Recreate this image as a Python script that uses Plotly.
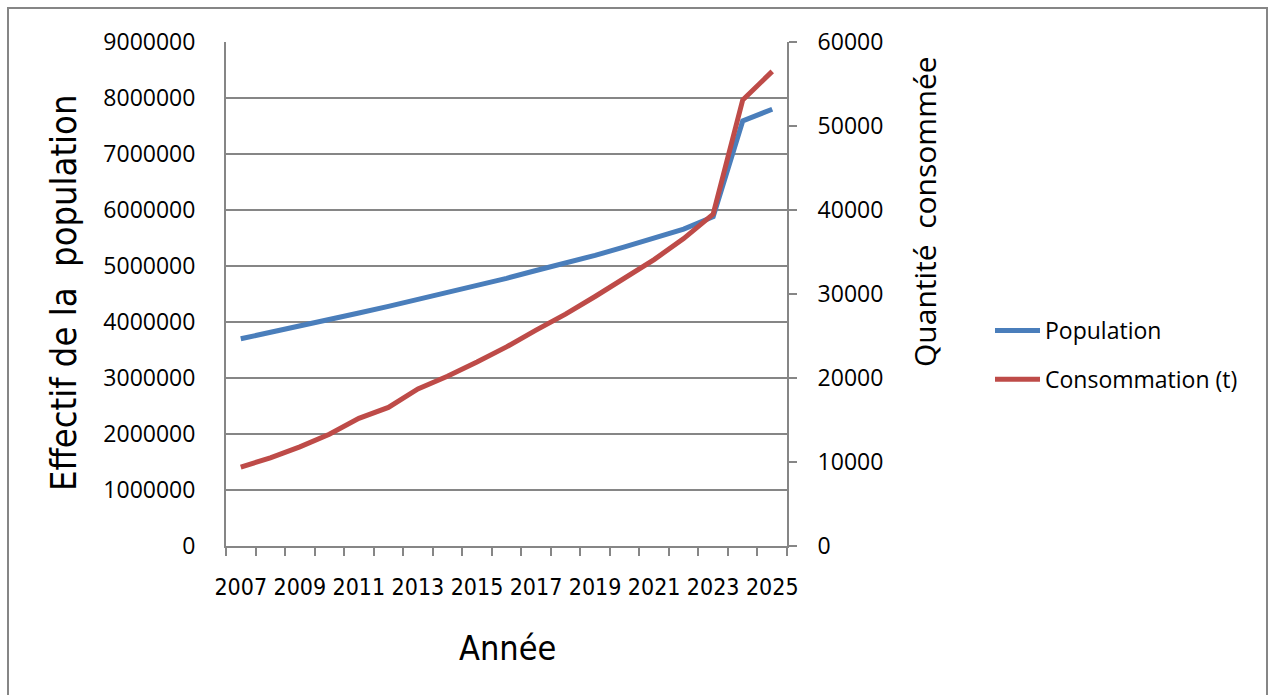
import plotly.graph_objects as go

# Années de projection
annees = list(range(2007, 2026))

# Effectif de la population (axe de gauche)
population = [3700000, 3810000, 3930000, 4040000, 4160000, 4280000, 4400000,
              4530000, 4650000, 4780000, 4920000, 5050000, 5190000, 5340000,
              5490000, 5660000, 5880000, 7590000, 7800000]

# Quantité consommée en tonnes (axe de droite)
consommation = [9400, 10500, 11800, 13300, 15200, 16500, 18700, 20200, 21900,
                23700, 25700, 27600, 29700, 31900, 34100, 36600, 39500, 53100, 56500]

# Graduations
x_labels = [str(a) for a in range(2007, 2026, 2)]
y_left_ticks = list(range(0, 9000001, 1000000))
y_right_ticks = list(range(0, 60001, 10000))

GRID = "#868686"
NARROW = "DejaVu Sans Condensed, Liberation Sans, sans-serif"
BODY = "Open Sans, Lato, sans-serif"

fig = go.Figure()
fig.add_trace(go.Scatter(
    x=annees, y=population, name="Population", mode="lines",
    line=dict(color="#4A7EBB", width=5), legendgroup="pop", yaxis="y"))
fig.add_trace(go.Scatter(
    x=annees, y=consommation, name="Consommation (t)", mode="lines",
    line=dict(color="#BE4B48", width=5), legendgroup="conso", yaxis="y2"))

W, H = 1273, 695
L, R, T, B = 226, 787, 42, 546
pw, ph = R - L, B - T


def px_x(x):
    return (x - L) / pw


def px_y(y):
    return (B - y) / ph


fig.update_layout(
    width=W, height=H,
    margin=dict(l=L, r=W - R, t=T, b=H - B, pad=0),
    paper_bgcolor="white", plot_bgcolor="white",
    showlegend=True,
    legend=dict(
        x=px_x(990), y=px_y(355), xanchor="left", yanchor="middle",
        font=dict(family=BODY, size=23, color="black"),
        tracegroupgap=16, traceorder="grouped", itemwidth=45,
        bgcolor="rgba(0,0,0,0)",
    ),
    xaxis=dict(
        range=[2006.5, 2025.5],
        tickvals=[int(v) for v in x_labels], ticktext=x_labels,
        tickangle=0, ticks="", showgrid=False,
        showline=True, linecolor=GRID, linewidth=2,
        tickfont=dict(family=NARROW, size=23, color="black"),
        ticklabelstandoff=19,
        minor=dict(tickvals=[a - 0.5 for a in annees] + [annees[-1] + 0.5],
                   ticks="outside", ticklen=8, tickwidth=1.5, tickcolor=GRID,
                   showgrid=False),
    ),
    yaxis=dict(
        range=[0, 9000000], tickvals=y_left_ticks, tickformat="d",
        showgrid=True, gridcolor=GRID, gridwidth=1.5,
        showline=True, linecolor=GRID, linewidth=2,
        zeroline=False, ticks="",
        tickfont=dict(family=BODY, size=23, color="black"),
        ticklabelstandoff=24,
    ),
    yaxis2=dict(
        range=[0, 60000], tickvals=y_right_ticks, tickformat="d",
        overlaying="y", side="right", showgrid=False, zeroline=False,
        showline=True, linecolor=GRID, linewidth=2,
        ticks="outside", ticklen=8, tickwidth=1.5, tickcolor=GRID,
        tickfont=dict(family=BODY, size=23, color="black"),
        ticklabelstandoff=16,
    ),
    annotations=[
        dict(text="Effectif de la  population", textangle=-90,
             x=px_x(63), y=px_y(293), xref="paper", yref="paper",
             xanchor="center", yanchor="middle", showarrow=False,
             font=dict(family=NARROW, size=36, color="black")),
        dict(text="Quantité  consommée", textangle=-90,
             x=px_x(924), y=px_y(212), xref="paper", yref="paper",
             xanchor="center", yanchor="middle", showarrow=False,
             font=dict(family=BODY, size=30, color="black")),
        dict(text="Année",
             x=px_x(507), y=px_y(648), xref="paper", yref="paper",
             xanchor="center", yanchor="middle", showarrow=False,
             font=dict(family=NARROW, size=34, color="black")),
    ],
    shapes=[
        dict(type="rect", xref="paper", yref="paper",
             x0=px_x(8), x1=px_x(1267), y0=px_y(705), y1=px_y(8),
             line=dict(color=GRID, width=2), fillcolor="rgba(0,0,0,0)",
             layer="below"),
    ],
)

fig.write_html("out.html")
